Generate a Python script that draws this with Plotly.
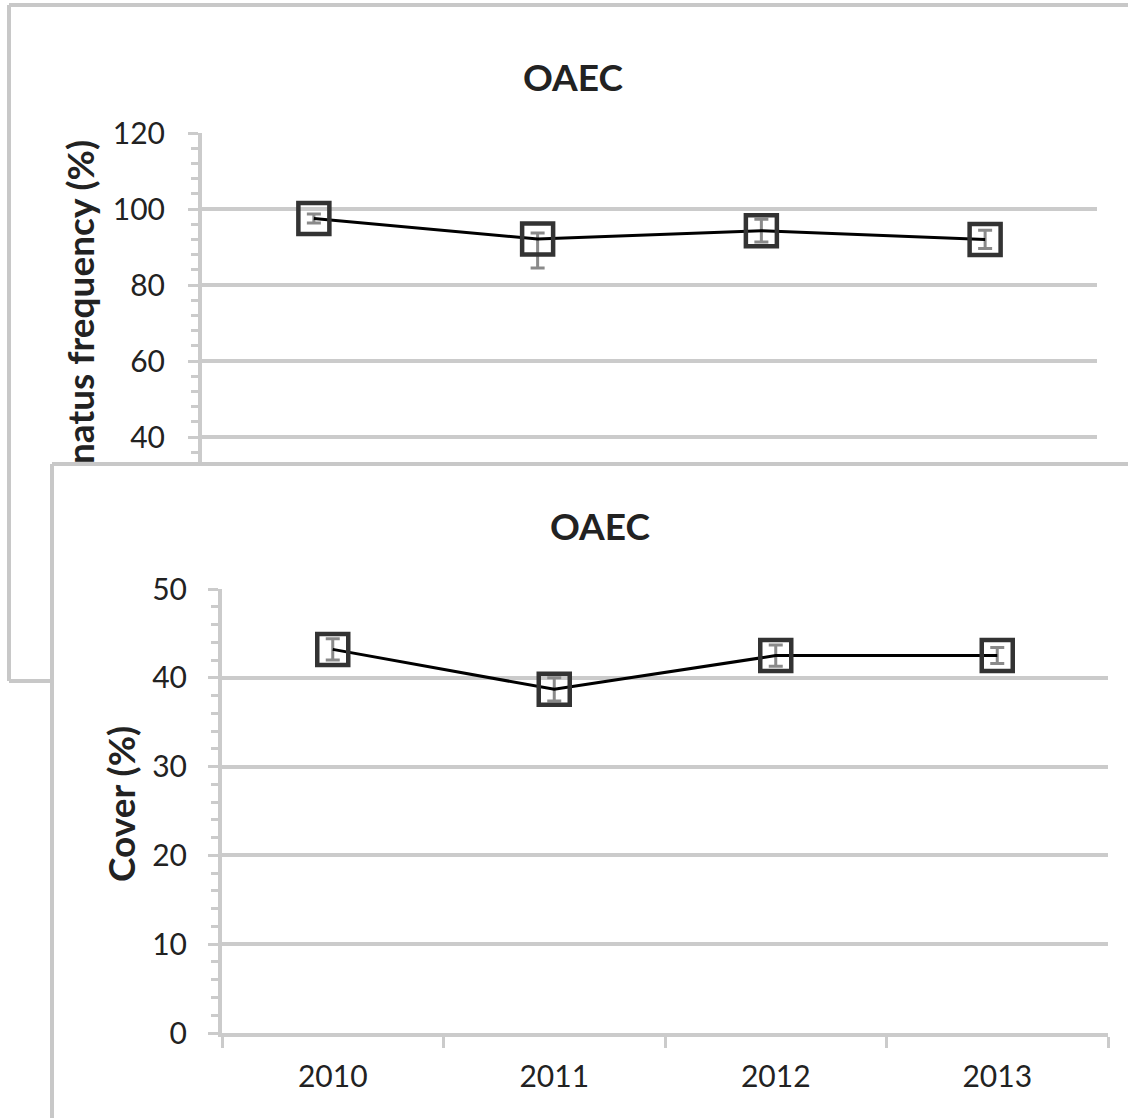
import plotly.graph_objects as go

# ---- data ----
years = ["2010", "2011", "2012", "2013"]

freq = [97.5, 92.1, 94.3, 92.0]            # frequency (%), upper panel
freq_err_plus = [1.2, 1.6, 3.0, 2.4]
freq_err_minus = [1.2, 7.6, 3.0, 2.4]

cover = [43.2, 38.7, 42.5, 42.5]           # cover (%), lower panel
cover_err = [1.2, 1.3, 1.2, 0.9]

freq_ticks = [40, 60, 80, 100, 120]
cover_ticks = [0, 10, 20, 30, 40, 50]

# ---- page geometry (pixels) ----
W, H = 1128, 1118


def fx(x):
    return x / W


def fy(y):
    return 1 - y / H


GRID = "#cbcbcb"
TXT = "#222222"
FONT = "Lato"

# upper plot area: value 120 sits at y=133, 3.8 px per unit; panel below hides the rest
top_y0, top_y1 = 133, 462
top_min = 120 - (top_y1 - top_y0) / 3.8

fig = go.Figure()

marker = dict(symbol="square-open", size=31, color="#333333",
              line=dict(width=4.5, color="#333333"))

fig.add_trace(go.Scatter(
    x=years, y=freq, mode="lines+markers",
    line=dict(color="#000000", width=3),
    marker=marker,
    error_y=dict(type="data", array=freq_err_plus, arrayminus=freq_err_minus,
                 color="#8a8a8a", thickness=3, width=7),
    xaxis="x", yaxis="y", showlegend=False, cliponaxis=False,
))

fig.add_trace(go.Scatter(
    x=years, y=cover, mode="lines+markers",
    line=dict(color="#000000", width=3),
    marker=marker,
    error_y=dict(type="data", array=cover_err,
                 color="#8a8a8a", thickness=3, width=7),
    xaxis="x2", yaxis="y2", showlegend=False, cliponaxis=False,
))

axis_font = dict(family=FONT, size=30, color=TXT)

fig.update_layout(
    width=W, height=H,
    margin=dict(l=0, r=0, t=0, b=0, autoexpand=False),
    paper_bgcolor="white", plot_bgcolor="white",
    xaxis=dict(
        domain=[fx(202), fx(1097)], anchor="y", automargin=False,
        type="category", categoryorder="array", categoryarray=years,
        range=[-0.5, 3.5], visible=False, showgrid=False, zeroline=False,
    ),
    yaxis=dict(
        domain=[fy(top_y1), fy(top_y0)], anchor="x", automargin=False,
        range=[top_min, 120], tickvals=freq_ticks,
        showgrid=True, gridcolor=GRID, gridwidth=4, zeroline=False,
        showline=True, linecolor=GRID, linewidth=4,
        ticks="outside", ticklen=10, tickwidth=3, tickcolor=GRID,
        minor=dict(dtick=4, ticks="outside", ticklen=7, tickwidth=3,
                   tickcolor=GRID, showgrid=False),
        tickfont=axis_font, ticklabelstandoff=17,
    ),
    xaxis2=dict(
        domain=[fx(222), fx(1108)], anchor="y2", automargin=False,
        type="category", categoryorder="array", categoryarray=years,
        range=[-0.5, 3.5], tickson="boundaries",
        showgrid=False, zeroline=False,
        showline=True, linecolor=GRID, linewidth=4,
        ticks="outside", ticklen=11, tickwidth=3, tickcolor=GRID,
        tickfont=axis_font, ticklabelstandoff=14,
    ),
    yaxis2=dict(
        domain=[fy(1033), fy(589)], anchor="x2", automargin=False,
        range=[0, 50], tickvals=cover_ticks,
        showgrid=True, gridcolor=GRID, gridwidth=4, zeroline=False,
        showline=True, linecolor=GRID, linewidth=4,
        ticks="outside", ticklen=10, tickwidth=3, tickcolor=GRID,
        minor=dict(dtick=2, ticks="outside", ticklen=7, tickwidth=3,
                   tickcolor=GRID, showgrid=False),
        tickfont=axis_font, ticklabelstandoff=15,
    ),
)

# panel frames
frame = dict(color="#c8c8c8", width=4)
segments = [
    (9, 5, W, 5), (9, 5, 9, 681), (9, 681, 52, 681),      # upper panel
    (52, 464, W, 464), (52, 464, 52, H),                  # lower panel
]
for x0, y0, x1, y1 in segments:
    fig.add_shape(type="line", xref="paper", yref="paper",
                  x0=fx(x0), y0=fy(y0), x1=fx(x1), y1=fy(y1), line=frame)

# titles
title_font = dict(family=FONT, size=37, color=TXT, weight="bold")
fig.add_annotation(text="OAEC", xref="paper", yref="paper",
                   x=fx(573), y=fy(76), showarrow=False, font=title_font,
                   xanchor="center", yanchor="middle")
fig.add_annotation(text="OAEC", xref="paper", yref="paper",
                   x=fx(600), y=fy(525), showarrow=False, font=title_font,
                   xanchor="center", yanchor="middle")

# y-axis titles
ytitle_font = dict(family=FONT, size=37, color=TXT, weight="bold")
fig.add_annotation(text="natus frequency (%)", xref="paper", yref="paper",
                   x=fx(80), y=fy(466), textangle=-90, showarrow=False,
                   font=ytitle_font, xanchor="center", yanchor="bottom")
fig.add_annotation(text="Cover (%)", xref="paper", yref="paper",
                   x=fx(120), y=fy(804), textangle=-90, showarrow=False,
                   font=ytitle_font, xanchor="center", yanchor="middle")

fig.write_html("out.html")
